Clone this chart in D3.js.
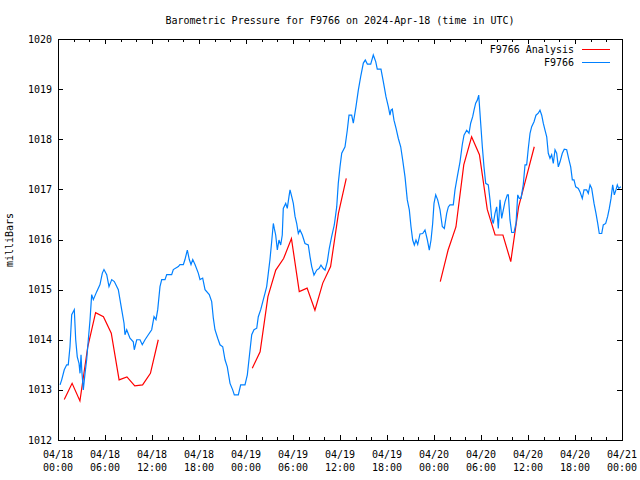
<!DOCTYPE html>
<html><head><meta charset="utf-8">
<script src="https://cdn.jsdelivr.net/npm/d3@7"></script>
<style>
body{margin:0;background:#fff}
svg{display:block}
text{font-family:"DejaVu Sans Mono","Liberation Mono",monospace;font-size:10px;fill:#000}
</style>
</head><body>
<svg id="chart" width="640" height="480"></svg>
<script>
// ---------- data ----------
const chartTitle = "Barometric Pressure for F9766 on 2024-Apr-18 (time in UTC)";
const yAxisLabel = "milliBars";
const seriesNames = ["F9766 Analysis", "F9766"];
const seriesColors = ["#ff0000", "#0080ff"];
const yTickValues = [1012, 1013, 1014, 1015, 1016, 1017, 1018, 1019, 1020];
const startUTC = Date.UTC(2024, 3, 18, 0, 0);
const endUTC = Date.UTC(2024, 3, 21, 0, 0);

// observed pressure: hours since 04/18 00:00 UTC, and value in mb
const obsHours = [0.26,0.47,0.80,1.11,1.31,1.53,1.75,1.91,2.08,2.26,2.46,2.68,2.81,2.94,3.03,3.23,3.45,3.66,3.87,4.09,4.30,4.51,4.94,5.36,5.66,5.87,6.22,6.51,6.86,7.19,7.70,8.13,8.43,8.55,8.77,9.19,9.61,9.74,10.05,10.47,10.76,11.11,11.53,11.96,12.26,12.51,12.73,13.02,13.24,13.66,13.88,14.51,14.72,15.36,15.57,16.00,16.21,16.51,16.76,16.98,17.20,17.49,17.91,18.13,18.47,18.77,19.31,19.62,19.83,20.04,20.39,20.68,21.03,21.32,21.61,21.96,22.30,22.51,23.02,23.32,23.87,24.17,24.42,24.73,25.02,25.37,25.57,25.88,26.21,26.43,26.64,26.85,27.06,27.28,27.49,27.61,27.79,28.00,28.21,28.43,28.63,28.76,29.07,29.27,29.49,29.62,29.83,30.04,30.26,30.47,30.68,30.89,31.19,31.53,31.95,32.17,32.39,32.68,33.03,33.32,33.57,33.87,34.09,34.38,34.63,34.94,35.27,35.58,35.78,36.00,36.22,36.64,36.93,37.15,37.49,37.70,38.04,38.34,38.64,38.98,39.23,39.49,39.92,40.25,40.56,40.76,41.23,41.53,41.87,42.17,42.38,42.51,42.68,42.89,43.15,43.44,43.75,44.00,44.30,44.59,44.85,45.06,45.28,45.49,45.70,45.92,46.21,46.56,46.85,47.14,47.40,47.62,47.83,48.00,48.22,48.47,48.77,49.06,49.32,49.62,49.83,50.04,50.46,50.68,50.97,51.32,51.61,51.83,52.17,52.47,52.68,52.94,53.11,53.32,53.53,53.71,53.78,53.96,54.17,54.38,54.60,54.93,55.15,55.37,55.57,55.79,56.00,56.21,56.43,56.64,56.85,57.06,57.36,57.49,57.70,57.92,58.21,58.47,58.69,58.89,59.11,59.40,59.62,59.83,60.04,60.26,60.47,60.77,61.02,61.31,61.53,61.75,61.95,62.17,62.39,62.59,62.81,63.02,63.23,63.45,63.66,63.87,64.09,64.38,64.63,64.94,65.23,65.45,65.66,65.87,66.09,66.42,66.64,66.93,67.15,67.49,67.70,67.92,68.13,68.43,68.68,68.90,69.10,69.41,69.61,69.92,70.17,70.38,70.60,70.81,71.02,71.23,71.40,71.58,71.87];
const obsValues = [1013.10,1013.20,1013.40,1013.50,1013.50,1013.86,1014.50,1014.55,1014.60,1014.00,1013.66,1013.53,1013.33,1013.70,1013.40,1013.00,1013.33,1013.60,1014.00,1014.40,1014.90,1014.80,1014.96,1015.10,1015.33,1015.40,1015.30,1015.06,1015.20,1015.16,1015.00,1014.60,1014.33,1014.10,1014.20,1014.03,1013.96,1013.80,1014.00,1014.00,1013.90,1014.00,1014.10,1014.20,1014.46,1014.40,1014.60,1015.06,1015.20,1015.20,1015.30,1015.30,1015.40,1015.46,1015.50,1015.50,1015.60,1015.79,1015.60,1015.50,1015.60,1015.50,1015.33,1015.20,1015.23,1015.00,1014.90,1014.76,1014.43,1014.20,1014.03,1013.90,1013.86,1013.60,1013.46,1013.13,1013.00,1012.90,1012.90,1013.10,1013.10,1013.30,1013.66,1014.10,1014.20,1014.23,1014.46,1014.60,1014.80,1014.93,1015.06,1015.33,1015.60,1015.96,1016.32,1016.22,1016.09,1015.79,1015.99,1015.89,1016.09,1016.62,1016.72,1016.62,1016.86,1016.99,1016.86,1016.72,1016.46,1016.32,1016.12,1016.19,1016.09,1015.92,1015.89,1015.66,1015.46,1015.29,1015.39,1015.42,1015.49,1015.42,1015.39,1015.56,1015.82,1016.06,1016.29,1016.65,1017.12,1017.45,1017.72,1017.85,1018.18,1018.48,1018.48,1018.32,1018.65,1018.98,1019.25,1019.52,1019.58,1019.50,1019.50,1019.68,1019.55,1019.40,1019.40,1019.15,1018.85,1018.65,1018.48,1018.58,1018.60,1018.38,1018.22,1018.02,1017.85,1017.59,1017.25,1016.79,1016.59,1016.26,1015.99,1015.89,1015.99,1015.90,1016.11,1016.12,1016.19,1016.00,1015.79,1015.99,1016.32,1016.72,1016.89,1016.79,1016.59,1016.26,1016.22,1016.52,1016.65,1016.69,1016.69,1016.99,1017.25,1017.55,1017.89,1018.08,1018.18,1018.12,1018.32,1018.45,1018.58,1018.72,1018.78,1018.88,1018.72,1018.32,1017.85,1017.45,1017.12,1017.09,1016.79,1016.42,1016.32,1016.52,1016.65,1016.22,1016.79,1016.42,1016.59,1016.75,1016.89,1016.89,1016.39,1016.14,1016.14,1016.32,1016.89,1016.82,1016.82,1017.10,1017.49,1017.49,1017.82,1018.12,1018.25,1018.35,1018.48,1018.52,1018.58,1018.48,1018.32,1018.18,1018.05,1017.72,1017.62,1017.69,1017.52,1017.79,1017.72,1017.45,1017.55,1017.72,1017.80,1017.79,1017.59,1017.45,1017.19,1017.19,1017.05,1017.02,1016.95,1016.82,1016.99,1016.99,1016.92,1017.09,1017.02,1016.72,1016.52,1016.32,1016.12,1016.12,1016.29,1016.32,1016.46,1016.62,1016.82,1017.09,1016.89,1016.99,1017.09,1017.02,1017.05];

// analysis: hourly values, three runs (null = gap)
const anaHours = [0.8,1.8,2.8,3.8,4.8,5.8,6.8,7.8,8.8,9.8,10.8,11.8,12.8, null,
                  24.8,25.8,26.8,27.8,28.8,29.8,30.8,31.8,32.8,33.8,34.8,35.8,36.8, null,
                  48.8,49.8,50.8,51.8,52.8,53.8,54.8,55.8,56.8,57.8,58.8,59.8,60.8];
const anaValues = [1012.81,1013.13,1012.78,1013.86,1014.54,1014.46,1014.13,1013.20,1013.26,1013.08,1013.10,1013.33,1014.00, null,
                   1013.43,1013.76,1014.86,1015.39,1015.62,1016.02,1014.96,1015.03,1014.59,1015.13,1015.46,1016.52,1017.22, null,
                   1015.16,1015.79,1016.25,1017.49,1018.05,1017.69,1016.60,1016.09,1016.09,1015.56,1016.65,1017.25,1017.85];

// ---------- chart ----------
const svg = d3.select("#chart");
const L = 58, R = 622, T = 39, B = 440;
const H = 3600e3;
const x = d3.scaleUtc().domain([new Date(startUTC), new Date(endUTC)]).range([L, R]);
const y = d3.scaleLinear().domain([1012, 1020]).range([B, T]);

const majorTicks = d3.utcHour.every(6).range(new Date(startUTC), new Date(endUTC + 1));
const minorTicks = d3.utcHour.every(2).range(new Date(startUTC), new Date(endUTC + 1));

const axG = svg.append("g").attr("shape-rendering", "crispEdges");
function styleAxis(g){ g.select(".domain").remove(); g.selectAll("line").attr("stroke","#000"); g.selectAll("text").remove(); }
axG.append("g").attr("transform",`translate(0,${B})`).call(d3.axisBottom(x).tickValues(minorTicks).tickSize(-3).tickFormat("")).call(styleAxis);
axG.append("g").attr("transform",`translate(0,${B})`).call(d3.axisBottom(x).tickValues(majorTicks).tickSize(-5).tickFormat("")).call(styleAxis);
axG.append("g").attr("transform",`translate(0,${T})`).call(d3.axisTop(x).tickValues(minorTicks).tickSize(-3).tickFormat("")).call(styleAxis);
axG.append("g").attr("transform",`translate(0,${T})`).call(d3.axisTop(x).tickValues(majorTicks).tickSize(-5).tickFormat("")).call(styleAxis);
axG.append("g").attr("transform",`translate(${L},0)`).call(d3.axisLeft(y).tickValues(yTickValues).tickSize(-5).tickFormat("")).call(styleAxis);
axG.append("g").attr("transform",`translate(${R},0)`).call(d3.axisRight(y).tickValues(yTickValues).tickSize(-5).tickFormat("")).call(styleAxis);

// y labels
svg.append("g").selectAll("text").data(yTickValues).join("text")
  .attr("x", L - 6).attr("y", d => y(d)).attr("dy", "0.36em")
  .attr("text-anchor", "end").text(d => d3.format("d")(d));

// x labels
const fmtD = d3.utcFormat("%m/%d"), fmtT = d3.utcFormat("%H:%M");
const xl = svg.append("g").selectAll("text").data(majorTicks).join("text")
  .attr("text-anchor", "middle");
xl.append("tspan").attr("x", d => x(d)).attr("y", 458).text(d => fmtD(d));
xl.append("tspan").attr("x", d => x(d)).attr("y", 471).text(d => fmtT(d));

// title & y label
svg.append("text").attr("x", (L + R) / 2).attr("y", 24).attr("text-anchor", "middle").text(chartTitle);
svg.append("text").attr("transform", "translate(13,240) rotate(-90)").attr("text-anchor", "middle").text(yAxisLabel);

// lines
const toDate = h => new Date(startUTC + h * H);
const line = d3.line().defined(d => d[0] != null && d[1] != null).x(d => x(toDate(d[0]))).y(d => y(d[1]));
const anaData = anaHours.map((h, i) => [h, anaValues[i]]);
const obsData = obsHours.map((h, i) => [h, obsValues[i]]);
svg.append("path").datum(anaData).attr("d", line).attr("fill", "none").attr("stroke", seriesColors[0]).attr("stroke-width", 1.2);
svg.append("path").datum(obsData).attr("d", line).attr("fill", "none").attr("stroke", seriesColors[1]).attr("stroke-width", 1.2);

// frame
svg.append("rect").attr("x", L).attr("y", T).attr("width", R - L).attr("height", B - T)
  .attr("fill", "none").attr("stroke", "#000").attr("shape-rendering", "crispEdges");

// legend
const lg = svg.append("g");
seriesNames.forEach((n, i) => {
  const yy = 49.5 + i * 13;
  lg.append("text").attr("x", 574).attr("y", yy).attr("dy", "0.36em").attr("text-anchor", "end").text(n);
  lg.append("line").attr("x1", 582).attr("x2", 610).attr("y1", yy).attr("y2", yy)
    .attr("stroke", seriesColors[i]).attr("stroke-width", 1.2).attr("shape-rendering", "crispEdges");
});
</script>
</body></html>
